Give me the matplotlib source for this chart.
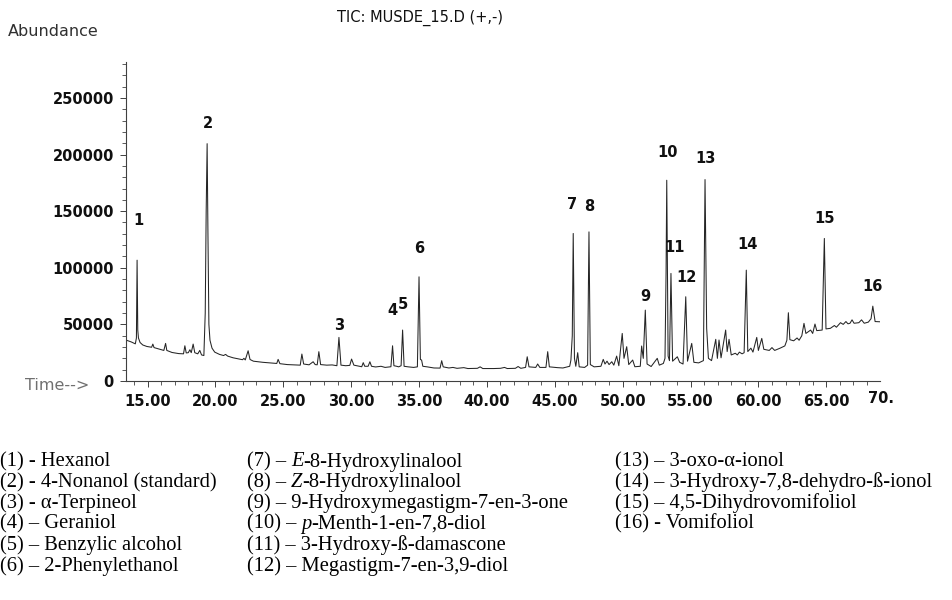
import matplotlib
matplotlib.use("Agg")
import matplotlib.pyplot as plt
from matplotlib.ticker import MultipleLocator, FuncFormatter
from matplotlib.transforms import offset_copy

# ---- chromatogram trace (time in min, abundance) ----
times = [13.45, 13.80, 14.10, 14.18, 14.23, 14.28, 14.33, 14.45, 14.65, 14.95,
         15.30, 15.39, 15.48, 15.90, 16.20, 16.33, 16.42, 16.80, 17.30, 17.65,
         17.75, 17.85, 18.00, 18.12, 18.22, 18.36, 18.48, 18.70, 18.85, 18.98,
         19.15, 19.25, 19.32, 19.39, 19.45, 19.52, 19.60, 19.75, 19.95, 20.30,
         20.60, 20.75, 20.90, 21.30, 21.70, 22.00, 22.10, 22.20, 22.41, 22.55,
         22.80, 23.50, 24.20, 24.52, 24.62, 24.75, 25.30, 25.80, 26.25, 26.37,
         26.50, 26.90, 27.20, 27.35, 27.50, 27.62, 27.75, 28.20, 28.60, 28.95,
         29.10, 29.25, 29.60, 29.90, 30.03, 30.20, 30.60, 30.78, 30.89, 31.00,
         31.25, 31.38, 31.50, 31.80, 32.20, 32.50, 32.93, 33.05, 33.15, 33.35,
         33.50, 33.68, 33.79, 33.90, 34.20, 34.60, 34.88, 35.00, 35.10, 35.19,
         35.28, 35.60, 36.10, 36.55, 36.67, 36.78, 37.20, 37.50, 37.80, 38.30,
         38.60, 39.30, 39.50, 39.70, 40.50, 41.00, 41.30, 41.50, 42.10, 42.30,
         42.50, 42.85, 42.97, 43.10, 43.60, 43.74, 43.90, 44.35, 44.48, 44.60,
         45.20, 45.60, 46.10, 46.19, 46.29, 46.36, 46.45, 46.55, 46.69, 46.80,
         47.20, 47.42, 47.52, 47.62, 47.90, 48.40, 48.57, 48.70, 48.85, 49.00,
         49.20, 49.35, 49.56, 49.72, 49.97, 50.10, 50.30, 50.45, 50.74, 50.90,
         51.30, 51.40, 51.52, 51.67, 51.80, 52.10, 52.55, 52.70, 53.00, 53.12,
         53.20, 53.25, 53.35, 53.45, 53.56, 53.68, 54.03, 54.20, 54.45, 54.65,
         54.78, 55.09, 55.25, 55.60, 55.95, 56.07, 56.19, 56.32, 56.55, 56.86,
         56.98, 57.10, 57.25, 57.59, 57.70, 57.84, 58.00, 58.30, 58.45, 58.60,
         58.80, 58.95, 59.11, 59.22, 59.45, 59.60, 59.88, 60.00, 60.25, 60.40,
         60.80, 61.00, 61.20, 61.60, 61.95, 62.10, 62.21, 62.32, 62.60, 62.85,
         63.00, 63.20, 63.36, 63.50, 63.85, 64.00, 64.17, 64.30, 64.70, 64.86,
         64.98, 65.30, 65.60, 65.75, 66.05, 66.25, 66.45, 66.60, 66.75, 66.90,
         67.05, 67.40, 67.60, 67.80, 68.10, 68.30, 68.43, 68.60, 68.96]
abundance = [36000, 34500, 32800, 38000, 106700, 45000, 38000, 34000, 31800, 30500,
             29800, 32600, 29500, 28000, 27000, 33200, 27000, 25200, 24200, 24000,
             31100, 24800, 25000, 27600, 25000, 32600, 25000, 24000, 27000, 23000,
             22500, 60000, 150000, 209600, 130000, 50000, 36000, 29000, 25500, 23500,
             22500, 23500, 22000, 20500, 19500, 18800, 20000, 18600, 26700, 19000,
             17500, 16500, 15800, 15500, 19100, 15300, 14500, 14200, 14000, 23800,
             15000, 14300, 17000, 14500, 14300, 25900, 14500, 14000, 14200, 13500,
             38500, 14000, 13500, 13800, 19400, 14000, 13000, 12600, 16200, 13000,
             13000, 17000, 13000, 12400, 13000, 12000, 12600, 31100, 13500, 13000,
             12500, 13500, 45000, 13000, 12500, 12000, 12500, 92000, 19000, 18500,
             13000, 12500, 11500, 11400, 17900, 12500, 11500, 12000, 11200, 11800,
             11000, 11200, 12500, 11000, 11000, 11200, 12000, 11000, 11200, 12800,
             11200, 12000, 21400, 12500, 12000, 15000, 12000, 12000, 25900, 12500,
             11800, 11500, 13000, 18500, 40000, 130300, 20000, 13000, 25000, 12500,
             12000, 14000, 131700, 14500, 12500, 13000, 19100, 15000, 17500, 14500,
             17000, 14000, 22000, 13500, 42000, 20000, 30300, 14500, 18500, 12600,
             13000, 30900, 20000, 62600, 15000, 12800, 20000, 14000, 15500, 20000,
             96000, 177300, 22000, 18000, 95000, 17500, 21400, 16500, 15000, 74400,
             17500, 33200, 16500, 16000, 18000, 177900, 46500, 20000, 18000, 36800,
             20000, 36200, 20500, 45000, 26000, 36800, 23000, 24500, 23000, 25500,
             24000, 25000, 97900, 26000, 29000, 25500, 38500, 27000, 37600, 28000,
             27000, 29500, 27000, 29000, 31000, 36000, 60300, 36500, 35500, 38000,
             36000, 40000, 50900, 42000, 45000, 42000, 50300, 44500, 45000, 125900,
             46000, 46500, 49000, 47500, 51500, 50000, 52500, 50500, 51000, 54000,
             51000, 51500, 54000, 51000, 52000, 55000, 66100, 52500, 52300]

# ---- peak labels ----
peak_ids = ["1", "2", "3", "4", "5", "6", "7", "8", "9", "10", "11", "12", "13", "14", "15", "16"]
peak_label_t = [14.31, 19.47, 29.10, 33.03, 33.84, 35.00, 46.29, 47.54, 51.70, 53.32,
                53.86, 54.67, 56.07, 59.19, 64.91, 68.43]
peak_label_y = [141400, 227800, 48800, 62000, 67900, 117000, 156100, 154300, 74400, 201400,
                117600, 91100, 196400, 120500, 143100, 83800]

# ---- compound legend: each entry is a list of (text, italic) segments ----
legend_col1 = [[("(1) - Hexanol", False)],
               [("(2) - 4-Nonanol (standard)", False)],
               [("(3) - \u03b1-Terpineol", False)],
               [("(4) \u2013 Geraniol", False)],
               [("(5) \u2013 Benzylic alcohol", False)],
               [("(6) \u2013 2-Phenylethanol", False)]]
legend_col2 = [[("(7) \u2013 ", False), ("E", True), ("-8-Hydroxylinalool", False)],
               [("(8) \u2013 ", False), ("Z", True), ("-8-Hydroxylinalool", False)],
               [("(9) \u2013 9-Hydroxymegastigm-7-en-3-one", False)],
               [("(10) \u2013 ", False), ("p", True), ("-Menth-1-en-7,8-diol", False)],
               [("(11) \u2013 3-Hydroxy-\u00df-damascone", False)],
               [("(12) \u2013 Megastigm-7-en-3,9-diol", False)]]
legend_col3 = [[("(13) \u2013 3-oxo-\u03b1-ionol", False)],
               [("(14) \u2013 3-Hydroxy-7,8-dehydro-\u00df-ionol", False)],
               [("(15) \u2013 4,5-Dihydrovomifoliol", False)],
               [("(16) - Vomifoliol", False)]]

W, H = 953, 600
fig = plt.figure(figsize=(W / 100, H / 100), dpi=100)
ax = fig.add_axes([126.5 / W, 1 - 381 / H, (880 - 126.5) / W, (381 - 61.7) / H])

ax.plot(times, abundance, color='#252525', lw=0.75)
ax.set_xlim(13.45, 68.96)
ax.set_ylim(0, 282000)

for s in ['top', 'right']:
    ax.spines[s].set_visible(False)
for s in ['left', 'bottom']:
    ax.spines[s].set_color('#404040')
    ax.spines[s].set_linewidth(0.8)

tick_font = dict(family='DejaVu Sans', weight='bold', size=10.5)
ax.xaxis.set_major_locator(MultipleLocator(5))
ax.xaxis.set_minor_locator(MultipleLocator(1))
ax.yaxis.set_major_locator(MultipleLocator(50000))
ax.yaxis.set_minor_locator(MultipleLocator(10000))
ax.xaxis.set_major_formatter(FuncFormatter(lambda v, p: f"{v:.2f}" if v < 69 else ""))
ax.yaxis.set_major_formatter(FuncFormatter(lambda v, p: f"{int(v)}"))
ax.tick_params(axis='both', which='major', direction='out', length=4, width=0.7, color='#404040')
ax.tick_params(axis='both', which='minor', direction='out', length=3, width=0.6, color='#404040')
ax.tick_params(axis='x', which='major', pad=5)
ax.tick_params(axis='y', which='major', pad=5)
for lab in ax.get_xticklabels() + ax.get_yticklabels():
    lab.set_fontfamily(tick_font['family'])
    lab.set_fontweight(tick_font['weight'])
    lab.set_fontsize(tick_font['size'])
    lab.set_color('#101010')

ax.text(70.0, -0.031, "70.", transform=ax.get_xaxis_transform(), ha='right', va='top',
        clip_on=False, color='#101010', **tick_font)

for lab, t, y in zip(peak_ids, peak_label_t, peak_label_y):
    ax.text(t, y, lab, ha='center', va='center', color='#101010', **tick_font)

fig.text(420 / W, 1 - 18 / H, "TIC: MUSDE_15.D (+,-)", ha='center', va='center',
         family='DejaVu Sans', size=10.5, color='#101010')
fig.text(8 / W, 1 - 31.7 / H, "Abundance", ha='left', va='center',
         family='DejaVu Sans', size=11.5, color='#303030')
fig.text(25 / W, 1 - 386 / H, "Time-->", ha='left', va='center',
         family='DejaVu Sans', size=11.5, color='#707070')

renderer = fig.canvas.get_renderer()
leg_size = 14.8
row_y = [461 + 20.8 * i for i in range(6)]


def draw_entry(x_px, y_px, segments):
    dx = 0.0
    for txt, italic in segments:
        tr = offset_copy(fig.transFigure, fig=fig, x=dx, y=0, units='dots')
        t = fig.text(x_px / W, 1 - y_px / H, txt, transform=tr, ha='left', va='baseline',
                     family='Liberation Serif', size=leg_size, color='black',
                     style='italic' if italic else 'normal')
        dx += t.get_window_extent(renderer=renderer).width


for col_x, col in [(0, legend_col1), (247, legend_col2), (615, legend_col3)]:
    for i, segs in enumerate(col):
        draw_entry(col_x, row_y[i] + 5.5, segs)

fig.savefig("out.png", dpi=100)
